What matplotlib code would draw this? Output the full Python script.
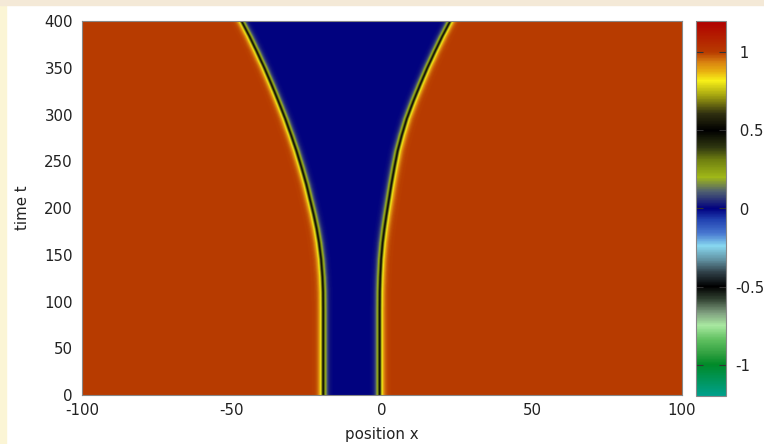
import numpy as np
import matplotlib.pyplot as plt
from matplotlib.colors import LinearSegmentedColormap
from matplotlib.patches import Rectangle

# front positions (0.5 level) read at these times
t_front = [0, 90, 110, 126, 145, 163, 178, 193, 209, 225, 243, 261, 278,
           296, 314, 332, 350, 368, 384, 400]
x_left = [-19.6, -19.6, -19.65, -19.85, -20.3, -21.0, -21.8, -22.8, -24.0,
          -25.2, -26.8, -28.5, -30.3, -32.3, -34.5, -36.8, -39.2, -41.8,
          -44.2, -46.8]
x_right = [-0.8, -0.8, -0.75, -0.6, -0.3, 0.2, 0.8, 1.5, 2.3, 3.1, 4.1,
           5.2, 6.6, 8.3, 10.4, 12.7, 15.1, 17.7, 20.1, 22.7]
u_out = 1.0      # state outside the gap
u_in = 0.0       # state inside the gap
width = 1.2      # interface width

# palette stops (value, colour)
pal_v = [-1.2, -1.0, -0.93, -0.84, -0.75, -0.67, -0.58, -0.5, -0.41, -0.33,
         -0.24, -0.16, -0.07, 0.0, 0.11, 0.2, 0.31, 0.39, 0.5, 0.61, 0.72,
         0.82, 0.88, 0.94, 1.0, 1.06, 1.2]
pal_c = ['#00a08c', '#008a28', '#30a040', '#60c060', '#a8e8a0', '#80a080',
         '#304030', '#000000', '#304048', '#6090a0', '#88d8f0', '#4878d0',
         '#2040b0', '#000080', '#506070', '#a0b818', '#708010', '#303810',
         '#000000', '#303010', '#a0a010', '#f8f018', '#e8b010', '#d88010',
         '#b83c00', '#b52a00', '#b00000']
vmin, vmax = -1.2, 1.2
cmap = LinearSegmentedColormap.from_list(
    'front', [((v - vmin) / (vmax - vmin), c) for v, c in zip(pal_v, pal_c)], N=512)

cb_ticks = [-1, -0.5, 0, 0.5, 1]
cb_labels = ['-1', '-0.5', ' 0', ' 0.5', ' 1']

plt.rcParams['axes.unicode_minus'] = False
fs = 10.8

x = np.linspace(-100, 100, 1201)
t = np.linspace(0, 400, 401)
xl = np.interp(t, t_front, x_left)[:, None]
xr = np.interp(t, t_front, x_right)[:, None]
X = x[None, :]
# two tanh kinks: u_out outside [xl, xr], u_in between
s = 0.5 * (1 + np.tanh((X - xl) / width)) * 0.5 * (1 - np.tanh((X - xr) / width))
u = u_out + (u_in - u_out) * s

fig = plt.figure(figsize=(7.64, 4.44), dpi=100)
fig.patches.append(Rectangle((0, 0), 6 / 764, 1, transform=fig.transFigure,
                             color='#fbf5d5', zorder=0))
fig.patches.append(Rectangle((0, 1 - 5 / 444), 1, 5 / 444, transform=fig.transFigure,
                             color='#f4e9d7', zorder=0))

ax = fig.add_axes([82 / 764, 49 / 444, 600 / 764, 374 / 444])
im = ax.imshow(u, extent=[-100, 100, 0, 400], origin='lower', aspect='auto',
               cmap=cmap, vmin=vmin, vmax=vmax, interpolation='bilinear')
ax.set_xlim(-100, 100)
ax.set_ylim(0, 400)
ax.set_xticks([-100, -50, 0, 50, 100])
ax.set_yticks(range(0, 401, 50))
ax.tick_params(length=0, labelsize=fs, colors='#222222')
ax.tick_params(axis='y', pad=6.5)
ax.tick_params(axis='x', pad=6)
for sp in ax.spines.values():
    sp.set_color('#888888')
    sp.set_linewidth(0.8)
ax.set_xlabel('position x', fontsize=fs, color='#222222', labelpad=6)
ax.set_ylabel('time t', fontsize=fs, color='#222222', labelpad=10)

cax = fig.add_axes([696 / 764, 48 / 444, 30 / 764, 375 / 444])
cb = fig.colorbar(im, cax=cax, ticks=cb_ticks)
cb.ax.set_yticklabels(cb_labels)
cb.ax.tick_params(direction='in', length=5, width=0.8, color='#333333',
                  labelsize=fs, labelcolor='#222222', pad=6.5,
                  left=True, right=True)
cb.outline.set_edgecolor('#888888')
cb.outline.set_linewidth(0.8)

fig.savefig('out.png', dpi=100)
